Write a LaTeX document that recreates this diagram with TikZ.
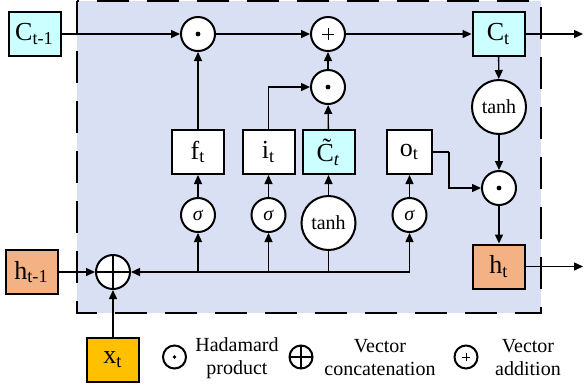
\documentclass[tikz,border=0pt]{standalone}
\usepackage{fontspec}
\setmainfont{Liberation Serif}
\usetikzlibrary{arrows.meta}

\definecolor{cellfill}{HTML}{D9E0F3}
\definecolor{statefill}{HTML}{CCFFFF}
\definecolor{hidfill}{HTML}{F4B183}
\definecolor{infill}{HTML}{FFC000}

\newcommand{\lsub}[1]{\textsubscript{#1}}

\tikzset{
	gatebox/.style={draw, line width=1pt, fill=white, inner sep=0pt,
		minimum width=26pt, minimum height=22pt, font=\fontsize{13}{15}\selectfont},
	opnode/.style={circle, draw, line width=1pt, fill=white, inner sep=0pt, minimum size=17pt},
	actnode/.style={circle, draw, line width=1pt, fill=white, inner sep=0pt,
		minimum size=27pt, font=\fontsize{10}{12}\selectfont},
	hadamard/.style={opnode, path picture={\fill[black] (path picture bounding box.center) circle (#1);}},
	hadamard/.default=1.2pt,
	vadd/.style={opnode, path picture={\draw[black, line width=0.5pt]
		([xshift=-#1]path picture bounding box.center) -- ([xshift=#1]path picture bounding box.center)
		([yshift=-#1]path picture bounding box.center) -- ([yshift=#1]path picture bounding box.center);}},
	vadd/.default=2.8pt,
	vcat/.style={opnode, path picture={\draw[black, line width=1pt]
		(path picture bounding box.north) -- (path picture bounding box.south)
		(path picture bounding box.west) -- (path picture bounding box.east);}},
	legendtext/.style={align=center, font=\fontsize{10}{11.5}\selectfont},
	flow/.style={line width=0.7pt, -{Triangle[length=4.5pt,width=4pt]}},
	wire/.style={line width=0.7pt},
}

\begin{document}
\begin{tikzpicture}[x=0.5pt, y=-0.5pt]
	\useasboundingbox (0,0) rectangle (584,387);
	%\draw[help lines, step=20] (0,0) grid (584,387);

	% cell
	\draw[fill=cellfill, line width=1pt, dash pattern=on 16pt off 9pt] (77,1) rectangle (541,313);

	\node (cprev) [gatebox, fill=statefill] at (34.5,34) {C\lsub{t-1}};
	\node (had1) [hadamard] at (198,34) {};
	\node (add) [vadd] at (328,34) {};
	\node (ct) [gatebox, fill=statefill] at (498.5,34) {C\lsub{t}};
	\coordinate (cout) at (583,34);

	\node (had2) [hadamard] at (328,87) {};

	\node (ft) [gatebox] at (198,152) {f\lsub{t}};
	\node (it) [gatebox] at (268.5,152) {i\lsub{t}};
	\node (ctil) [gatebox, fill=statefill] at (328.5,152) {\~{C}\lsub{\textit{t}}};
	\node (ot) [gatebox, minimum width=22.5pt] at (409.5,152) {o\lsub{t}};
	\coordinate (obend) at (449,152);

	\node (tanh2) [actnode] at (499,107) {tanh};
	\node (had3) [hadamard] at (499,188) {};
	\node (ht) [gatebox, fill=hidfill] at (499,266.5) {h\lsub{t}};
	\coordinate (hout) at (583,266.5);

	\node (sigf) [opnode, font=\fontsize{10}{12}\selectfont] at (198,215) {\textit{σ}};
	\node (sigi) [opnode, font=\fontsize{10}{12}\selectfont] at (268.5,215) {\textit{σ}};
	\node (tanh1) [actnode] at (328.5,223) {tanh};
	\node (sigo) [opnode, font=\fontsize{10}{12}\selectfont] at (409.5,215) {\textit{σ}};

	\node (hprev) [gatebox, fill=hidfill] at (31.5,272) {h\lsub{t-1}};
	\node (cat) [vcat] at (113,272) {};
	\coordinate (bus) at (409.5,272);
	\node (xt) [gatebox, fill=infill] at (113,359.5) {x\lsub{t}};

	% cell state
	\draw [flow] (cprev) -- (had1);
	\draw [flow] (had1) -- (add);
	\draw [flow] (add) -- (ct);
	\draw [flow] (ct) -- (cout);
	\draw [flow] (ft) -- (had1);
	\draw [flow] (it.north) |- (had2);
	\draw [flow] (ctil) -- (had2);
	\draw [flow] (had2) -- (add);

	% output
	\draw [flow] (ct) -- (tanh2);
	\draw [flow] (tanh2) -- (had3);
	\draw [wire] (ot.east) -- (obend);
	\draw [flow] (obend) |- (had3);
	\draw [flow] (had3) -- (ht);
	\draw [flow] (ht) -- (hout);

	% gates
	\draw [flow] (sigf) -- (ft);
	\draw [flow] (sigi) -- (it);
	\draw [flow] (tanh1) -- (ctil);
	\draw [flow] (sigo) -- (ot);
	\draw [flow] (sigf |- bus) -- (sigf);
	\draw [flow] (sigi |- bus) -- (sigi);
	\draw [wire] (tanh1 |- bus) -- (tanh1);
	\draw [flow] (bus) -- (sigo);
	\draw [flow] (bus) -- (cat);
	\draw [flow] (hprev) -- (cat);
	\draw [flow] (xt) -- (cat);

	% legend
	\node (lghad) [hadamard=0.9pt, minimum size=11.5pt] at (174.5,357) {};
	\node (lghadtxt) [legendtext] at (237,358) {Hadamard\\product};
	\node (lgcat) [vcat, minimum size=11.5pt] at (301,357) {};
	\node (lgcattxt) [legendtext] at (380,358) {Vector\\concatenation};
	\node (lgadd) [vadd=2pt, minimum size=11.5pt] at (466,357) {};
	\node (lgaddtxt) [legendtext] at (528,358) {Vector\\addition};
\end{tikzpicture}
\end{document}
